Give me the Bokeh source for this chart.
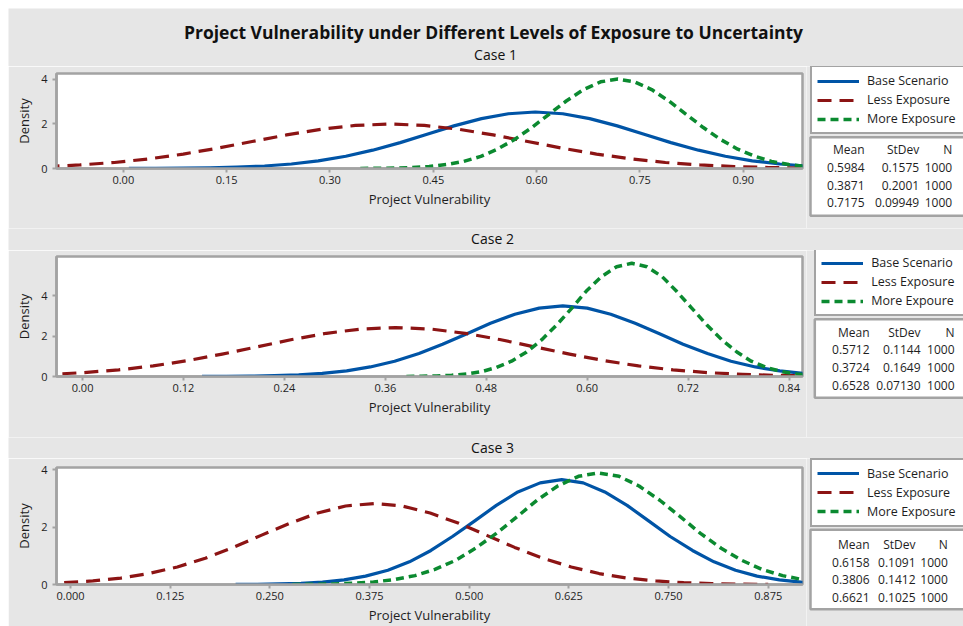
from bokeh.plotting import figure
from bokeh.models import (Range1d, FixedTicker, Legend, LegendItem, ColumnDataSource,
                          NumeralTickFormatter, BoxAnnotation, LabelSet)
from bokeh.layouts import column, row
from bokeh.embed import file_html
from bokeh.resources import INLINE
from bokeh.core.properties import value

# ---------------- data ----------------
MAIN_TITLE = "Project Vulnerability under Different Levels of Exposure to Uncertainty"
CASE_TITLES = ["Case 1", "Case 2", "Case 3"]
SERIES_NAMES = [
    ["Base Scenario", "Less Exposure", "More Exposure"],
    ["Base Scenario", "Less Exposure", "More Expoure"],
    ["Base Scenario", "Less Exposure", "More Exposure"],
]
STAT_HEADERS = ["Mean", "StDev", "N"]
case1_mean = ["0.5984", "0.3871", "0.7175"]
case1_sd = ["0.1575", "0.2001", "0.09949"]
case1_n = ["1000", "1000", "1000"]
case2_mean = ["0.5712", "0.3724", "0.6528"]
case2_sd = ["0.1144", "0.1649", "0.07130"]
case2_n = ["1000", "1000", "1000"]
case3_mean = ["0.6158", "0.3806", "0.6621"]
case3_sd = ["0.1091", "0.1412", "0.1025"]
case3_n = ["1000", "1000", "1000"]

X_LABEL = "Project Vulnerability"
Y_LABEL = "Density"
case1_xticks = [0.00, 0.15, 0.30, 0.45, 0.60, 0.75, 0.90]
case2_xticks = [0.00, 0.12, 0.24, 0.36, 0.48, 0.60, 0.72, 0.84]
case3_xticks = [0.000, 0.125, 0.250, 0.375, 0.500, 0.625, 0.750, 0.875]
tick_formats = ["0.00", "0.00", "0.000"]
y_ticks = [0, 2, 4]
case1_xrange = (-0.097, 0.986)
case2_xrange = (-0.031, 0.856)
case3_xrange = (-0.0176, 0.918)
case1_yrange = (0, 4.26)
case2_yrange = (0, 5.93)
case3_yrange = (0, 4.08)

# Case 1 curves
x1_base = [0.008, 0.047, 0.087, 0.126, 0.165, 0.205, 0.244, 0.283, 0.323, 0.362, 0.402, 0.441, 0.480,
           0.520, 0.559, 0.598, 0.638, 0.677, 0.717, 0.756, 0.795, 0.835, 0.874, 0.913, 0.953, 0.992]
y1_base = [0.002, 0.006, 0.013, 0.028, 0.058, 0.111, 0.202, 0.343, 0.548, 0.822, 1.160, 1.536, 1.912,
           2.235, 2.455, 2.533, 2.455, 2.235, 1.912, 1.536, 1.160, 0.822, 0.548, 0.343, 0.202, 0.111]
x1_less = [-0.113, -0.063, -0.013, 0.037, 0.087, 0.137, 0.187, 0.237, 0.287, 0.337, 0.387, 0.437,
           0.487, 0.537, 0.587, 0.637, 0.687, 0.737, 0.787, 0.837, 0.887, 0.937, 0.987]
y1_less = [0.088, 0.159, 0.270, 0.431, 0.647, 0.913, 1.209, 1.505, 1.759, 1.932, 1.994, 1.932,
           1.759, 1.505, 1.209, 0.913, 0.647, 0.431, 0.270, 0.159, 0.088, 0.045, 0.022]
x1_more = [0.344, 0.369, 0.394, 0.419, 0.444, 0.469, 0.494, 0.519, 0.543, 0.568, 0.593, 0.618, 0.643,
           0.668, 0.693, 0.718, 0.742, 0.767, 0.792, 0.817, 0.842, 0.867, 0.892, 0.917, 0.941, 0.966, 0.991]
y1_more = [0.004, 0.009, 0.020, 0.045, 0.091, 0.176, 0.319, 0.543, 0.867, 1.302, 1.836, 2.432, 3.027,
           3.539, 3.886, 4.010, 3.886, 3.539, 3.027, 2.432, 1.836, 1.302, 0.867, 0.543, 0.319, 0.176, 0.091]

# Case 2 curves
x2_base = [0.142, 0.171, 0.199, 0.228, 0.257, 0.285, 0.314, 0.342, 0.371, 0.400, 0.428, 0.457, 0.485,
           0.514, 0.543, 0.571, 0.600, 0.628, 0.657, 0.686, 0.714, 0.743, 0.771, 0.800, 0.829, 0.857]
y2_base = [0.003, 0.008, 0.018, 0.039, 0.080, 0.153, 0.277, 0.472, 0.754, 1.132, 1.597, 2.115, 2.632,
           3.077, 3.380, 3.487, 3.380, 3.077, 2.632, 2.115, 1.597, 1.132, 0.754, 0.472, 0.277, 0.153]
x2_less = [-0.024, 0.001, 0.043, 0.084, 0.125, 0.166, 0.208, 0.249, 0.290, 0.331, 0.372, 0.414,
           0.455, 0.496, 0.537, 0.579, 0.620, 0.661, 0.702, 0.743, 0.785, 0.826, 0.867]
y2_less = [0.135, 0.192, 0.327, 0.523, 0.785, 1.108, 1.467, 1.826, 2.135, 2.345, 2.419, 2.345,
           2.135, 1.826, 1.467, 1.108, 0.785, 0.523, 0.327, 0.192, 0.106, 0.055, 0.027]
x2_more = [0.385, 0.403, 0.421, 0.439, 0.457, 0.475, 0.492, 0.510, 0.528, 0.546, 0.564, 0.582, 0.599, 0.617,
           0.635, 0.653, 0.671, 0.689, 0.706, 0.724, 0.742, 0.760, 0.778, 0.795, 0.813, 0.831, 0.849, 0.867]
y2_more = [0.005, 0.012, 0.029, 0.062, 0.127, 0.246, 0.445, 0.757, 1.210, 1.817, 2.562, 3.394, 4.224, 4.938,
           5.423, 5.595, 5.423, 4.938, 4.224, 3.394, 2.562, 1.817, 1.210, 0.757, 0.445, 0.246, 0.127, 0.062]

# Case 3 curves
x3_base = [0.207, 0.234, 0.261, 0.289, 0.316, 0.343, 0.370, 0.398, 0.425, 0.452, 0.479, 0.507, 0.534, 0.561,
           0.589, 0.616, 0.643, 0.670, 0.698, 0.725, 0.752, 0.780, 0.807, 0.834, 0.861, 0.889, 0.916, 0.943]
y3_base = [0.003, 0.008, 0.019, 0.041, 0.083, 0.161, 0.291, 0.495, 0.791, 1.187, 1.674, 2.218, 2.760, 3.227,
           3.544, 3.657, 3.544, 3.227, 2.760, 2.218, 1.674, 1.187, 0.791, 0.495, 0.291, 0.161, 0.083, 0.041]
x3_less = [-0.008, 0.028, 0.063, 0.098, 0.134, 0.169, 0.204, 0.239, 0.275, 0.310, 0.345, 0.381, 0.416,
           0.451, 0.487, 0.522, 0.557, 0.592, 0.628, 0.663, 0.698, 0.734, 0.769, 0.804, 0.840, 0.875]
y3_less = [0.064, 0.124, 0.225, 0.382, 0.611, 0.917, 1.294, 1.714, 2.133, 2.493, 2.738, 2.825, 2.738,
           2.493, 2.133, 1.714, 1.294, 0.917, 0.611, 0.382, 0.225, 0.124, 0.064, 0.031, 0.014, 0.006]
x3_more = [0.278, 0.303, 0.329, 0.355, 0.380, 0.406, 0.432, 0.457, 0.483, 0.508, 0.534, 0.560, 0.585, 0.611,
           0.637, 0.662, 0.688, 0.713, 0.739, 0.765, 0.790, 0.816, 0.842, 0.867, 0.893, 0.918, 0.944]
y3_more = [0.003, 0.009, 0.020, 0.043, 0.089, 0.171, 0.310, 0.527, 0.842, 1.264, 1.782, 2.361, 2.938, 3.435,
           3.772, 3.892, 3.772, 3.435, 2.938, 2.361, 1.782, 1.264, 0.842, 0.527, 0.310, 0.171, 0.089]

# ---------------- style / layout (page pixels) ----------------
FONT = "Open Sans"
BG = "#e6e6e6"
FRAME = "#a3a3a3"
TXT = "#1e1e1e"
COLORS = ["#0054a6", "#8c1414", "#0b8a30"]
DASHES = ["solid", "14 8", "8 5"]
WIDTHS = [3.2, 3.2, 3.5]
PAGE_X0, PAGE_Y0 = 8, 8
TOTAL_W = 955
PANEL_W = 798
SIDE_W = TOTAL_W - PANEL_W
SIDE_X0 = PAGE_X0 + PANEL_W

cases = [
    dict(xs=[x1_base, x1_less, x1_more], ys=[y1_base, y1_less, y1_more], xr=case1_xrange, yr=case1_yrange,
         ticks=case1_xticks, fmt=tick_formats[0], stats=[case1_mean, case1_sd, case1_n],
         y0=66, h=162, top=7, bottom=60,
         leg=(810, 134), box=(810, 975, 136.7, 215.3), hy=149, ry=[166.7, 184.7, 201.7], cx=[864, 918.7, 951.7]),
    dict(xs=[x2_base, x2_less, x2_more], ys=[y2_base, y2_less, y2_more], xr=case2_xrange, yr=case2_yrange,
         ticks=case2_xticks, fmt=tick_formats[1], stats=[case2_mean, case2_sd, case2_n],
         y0=250, h=187, top=6, bottom=61,
         leg=(814.3, 316), box=(814.3, 975, 318.7, 397.3), hy=331.7, ry=[349.3, 367, 385], cx=[869, 920, 954]),
    dict(xs=[x3_base, x3_less, x3_more], ys=[y3_base, y3_less, y3_more], xr=case3_xrange, yr=case3_yrange,
         ticks=case3_xticks, fmt=tick_formats[2], stats=[case3_mean, case3_sd, case3_n],
         y0=458, h=168, top=9, bottom=42,
         leg=(810, 526.7), box=(810, 975, 529.3, 608.7), hy=544, ry=[561.7, 579, 596.7], cx=[869, 915, 947.3]),
]
headers = [
    dict(y0=8, h=58, items=[(MAIN_TITLE, 493, 31, "17.5px", "bold"), (CASE_TITLES[0], 495, 54, "14px", "normal")]),
    dict(y0=228, h=22, items=[(CASE_TITLES[1], 492, 238, "14px", "normal")]),
    dict(y0=437, h=21, items=[(CASE_TITLES[2], 492, 447, "14px", "normal")]),
]


def make_header(hd):
    f = figure(width=TOTAL_W, height=hd["h"], x_range=Range1d(PAGE_X0, PAGE_X0 + TOTAL_W),
               y_range=Range1d(hd["y0"] + hd["h"], hd["y0"]),
               x_axis_location=None, y_axis_location=None, output_backend="svg",
               toolbar_location=None, min_border=0, frame_align=False)
    f.grid.visible = False
    f.outline_line_color = None
    f.background_fill_color = BG
    f.border_fill_color = BG
    for text, x, y, size, style in hd["items"]:
        f.text(x=[x], y=[y], text=[text], text_font=value(FONT), text_font_size=size,
               text_font_style=style, text_color="#111111", text_align="center", text_baseline="middle")
    return f


def make_panel(c):
    p = figure(width=PANEL_W, height=c["h"], x_range=Range1d(*c["xr"]), y_range=Range1d(*c["yr"]),
               output_backend="svg", toolbar_location=None, frame_align=False,
               min_border_left=48, min_border_right=4, min_border_top=c["top"], min_border_bottom=c["bottom"])
    p.background_fill_color = "white"
    p.border_fill_color = BG
    p.outline_line_color = FRAME
    p.outline_line_width = 2.5
    p.grid.visible = False
    for x, y, col, dash, w in zip(c["xs"], c["ys"], COLORS, DASHES, WIDTHS):
        p.line(x, y, line_color=col, line_dash=dash, line_width=w, line_join="round")
    p.xaxis.ticker = FixedTicker(ticks=c["ticks"])
    p.xaxis.formatter = NumeralTickFormatter(format=c["fmt"])
    p.yaxis.ticker = FixedTicker(ticks=y_ticks)
    p.xaxis.axis_label = X_LABEL
    p.yaxis.axis_label = Y_LABEL
    for ax in (p.xaxis[0], p.yaxis[0]):
        ax.axis_line_color = FRAME
        ax.axis_line_width = 2.5
        ax.major_tick_line_color = FRAME
        ax.major_tick_line_width = 2
        ax.major_tick_out = 4
        ax.major_tick_in = 0
        ax.minor_tick_line_color = None
        ax.major_label_text_font = FONT
        ax.major_label_text_font_size = "11px"
        ax.major_label_text_color = TXT
        ax.axis_label_text_font = FONT
        ax.axis_label_text_font_size = "13px"
        ax.axis_label_text_font_style = "normal"
        ax.axis_label_text_color = TXT
    p.xaxis.major_label_standoff = 3
    p.xaxis.axis_label_standoff = 3
    return p


def make_side(c, names):
    bottom_px = c["y0"] + c["h"]

    def Y(y):  # page pixel row -> height above the figure bottom
        return bottom_px - y

    s = figure(width=SIDE_W, height=c["h"], x_range=Range1d(SIDE_X0, SIDE_X0 + SIDE_W),
               y_range=Range1d(0, c["h"]), x_axis_location=None, y_axis_location=None,
               output_backend="svg", toolbar_location=None, frame_align=False, min_border=0)
    s.grid.visible = False
    s.outline_line_color = None
    s.background_fill_color = BG
    s.border_fill_color = BG
    nan = float("nan")
    rs = [s.line(x=[nan], y=[nan], line_color=col, line_dash=dash, line_width=w)
          for col, dash, w in zip(COLORS, DASHES, WIDTHS)]
    lx, lb = c["leg"]
    leg = Legend(items=[LegendItem(label=n, renderers=[r]) for n, r in zip(names, rs)],
                 location=(lx - SIDE_X0, Y(lb)), margin=0, padding=5, spacing=2,
                 glyph_width=42, glyph_height=16, label_height=16, label_standoff=8, label_width=115,
                 label_text_font=FONT, label_text_font_size="12.5px", label_text_color=TXT,
                 border_line_color=FRAME, border_line_width=2.5, border_line_alpha=1.0,
                 background_fill_color="white", background_fill_alpha=1.0)
    s.add_layout(leg)
    l, r, t, b = c["box"]
    s.add_layout(BoxAnnotation(left=l, right=r, top=Y(t), bottom=Y(b), fill_color="white", fill_alpha=1.0,
                               line_color=FRAME, line_width=2.5, line_alpha=1.0))
    xs, ys, texts = [], [], []
    for j, head in enumerate(STAT_HEADERS):
        xs.append(c["cx"][j]); ys.append(Y(c["hy"])); texts.append(head)
        for i, v in enumerate(c["stats"][j]):
            xs.append(c["cx"][j]); ys.append(Y(c["ry"][i])); texts.append(v)
    s.add_layout(LabelSet(x="x", y="y", text="t", source=ColumnDataSource(dict(x=xs, y=ys, t=texts)),
                          text_font=value(FONT), text_font_size="12px", text_color=TXT,
                          text_align="right", text_baseline="middle"))
    return s


children = []
for hd, c, names in zip(headers, cases, SERIES_NAMES):
    children.append(make_header(hd))
    children.append(row(make_panel(c), make_side(c, names)))

layout = column(*children, margin=(PAGE_Y0, 0, 0, PAGE_X0))
open("out.html", "w").write(file_html(layout, INLINE))
